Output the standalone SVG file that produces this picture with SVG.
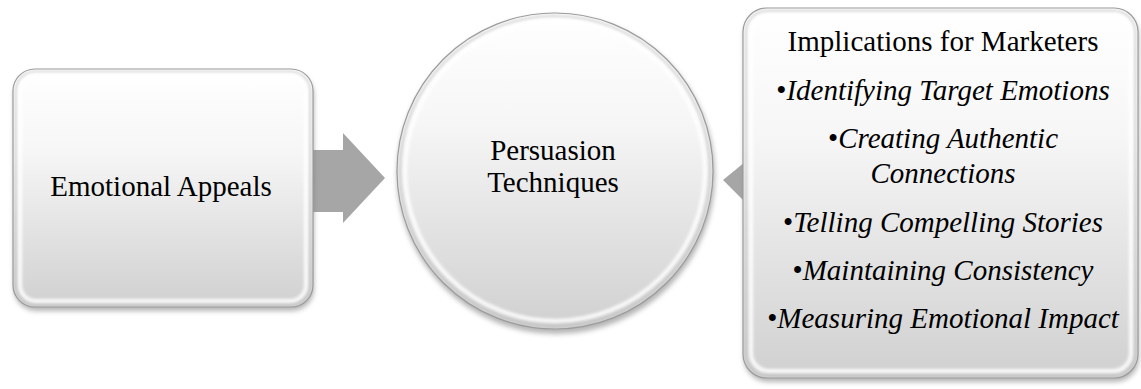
<svg xmlns="http://www.w3.org/2000/svg" width="1141" height="389" viewBox="0 0 1141 389">
<defs>
<linearGradient id="fillG" x1="0" y1="0" x2="0" y2="1">
<stop offset="0" stop-color="#ffffff"/>
<stop offset="0.35" stop-color="#f6f6f6"/>
<stop offset="1" stop-color="#d0d0d0"/>
</linearGradient>
<filter id="shadow" x="-10%" y="-10%" width="120%" height="125%">
<feGaussianBlur stdDeviation="2.5"/>
</filter>
<filter id="soft" x="-10%" y="-10%" width="120%" height="120%">
<feGaussianBlur stdDeviation="1.5"/>
</filter>
</defs>
<style>
.shadow{fill:#7a7a7a;opacity:0.55;filter:url(#shadow)}
.body{fill:url(#fillG);stroke:#9a9a9a;stroke-width:1.2}
.bevel{fill:none;stroke:#ffffff;stroke-width:4;opacity:0.9;filter:url(#soft)}
.bevelDark{fill:none;stroke:#b8b8b8;stroke-width:2;opacity:0.7;filter:url(#soft)}
.arrow{fill:#a6a6a6}
text{font-family:'Liberation Serif','Times New Roman',serif;font-size:29px;fill:#000;text-anchor:middle}
.i{font-style:italic}
</style>
<g id="connectors">
<path class="arrow" d="M313,150 H343 V133 L385,178 L343,223 V212 H313 Z"/>
<path class="arrow" d="M745,162 L723,180 L745,202 Z"/>
</g>
<g id="node-emotional-appeals">
<rect class="shadow" x="14" y="73" width="300" height="238" rx="22"/>
<rect class="body" x="13" y="69" width="300" height="238" rx="22"/>
<rect class="bevelDark" x="16" y="72" width="294" height="232" rx="19"/>
<rect class="bevel" x="20" y="75" width="286" height="226" rx="16"/>
<text x="161" y="196">Emotional Appeals</text>
</g>
<g id="node-persuasion-techniques">
<circle class="shadow" cx="556" cy="175" r="159"/>
<circle class="body" cx="555" cy="171" r="158"/>
<circle class="bevelDark" cx="555" cy="171" r="155"/>
<circle class="bevel" cx="555" cy="171" r="150"/>
<text x="553" y="160">Persuasion</text>
<text x="553" y="192">Techniques</text>
</g>
<g id="node-implications">
<rect class="shadow" x="744" y="12" width="395" height="370" rx="24"/>
<rect class="body" x="743" y="8" width="395" height="370" rx="24"/>
<rect class="bevelDark" x="746" y="11" width="389" height="364" rx="21"/>
<rect class="bevel" x="751" y="15" width="380" height="356" rx="18"/>
<text x="943" y="51">Implications for Marketers</text>
<text x="943" y="100">•<tspan class="i">Identifying Target Emotions</tspan></text>
<text x="943" y="148">•<tspan class="i">Creating Authentic</tspan></text>
<text class="i" x="943" y="183">Connections</text>
<text x="943" y="232">•<tspan class="i">Telling Compelling Stories</tspan></text>
<text x="943" y="280">•<tspan class="i">Maintaining Consistency</tspan></text>
<text x="943" y="328">•<tspan class="i">Measuring Emotional Impact</tspan></text>
</g>
</svg>
